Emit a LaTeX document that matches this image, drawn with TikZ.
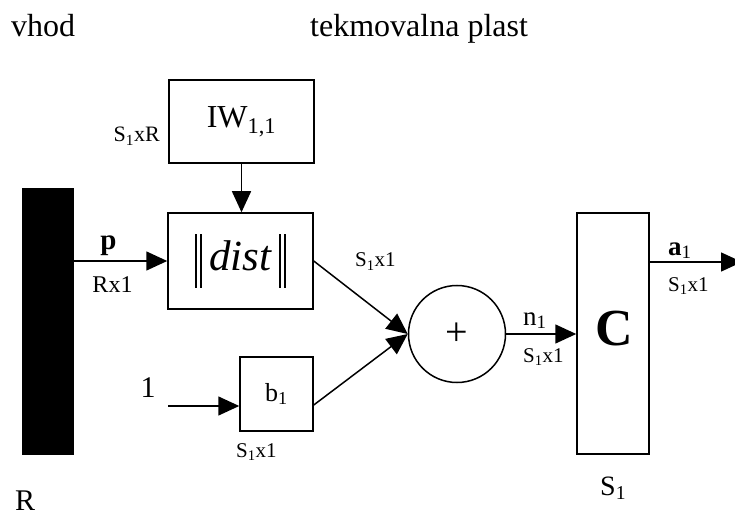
\documentclass[tikz,border=0pt]{standalone}
\usepackage{fontspec}
\setmainfont{Liberation Serif}
\usetikzlibrary{arrows.meta,calc}
\newcommand\fsz[1]{\fontsize{#1}{#1}\selectfont}
\newcommand\dbar{\rule[-17pt]{1.8pt}{54pt}\hspace{3pt}\rule[-17pt]{1.8pt}{54pt}}
\newcommand\sbs[1]{\textsubscript{#1}}
\begin{document}
\begin{tikzpicture}[x=1pt,y=-1pt,
  blk/.style={draw,line width=1.5pt,inner sep=0pt,anchor=center},
  conn/.style={line width=1.5pt,-{Triangle[length=21pt,width=19pt]}},
  lbl/.style={inner sep=0pt,anchor=base},
  big/.style={font=\fsz{32}},
  small/.style={font=\fsz{21}}]
\useasboundingbox (0,0) rectangle (735,518);
% blocks
\node[blk,fill=black,minimum width=50pt,minimum height=265pt] (bar) at (48,321.5) {};
\node[blk,minimum width=145pt,minimum height=83pt,font=\fsz{32}] (iw) at (241.5,121.5) {IW\sbs{1,1}};
\node[blk,minimum width=145pt,minimum height=96pt,font=\fsz{43}] (dist) at (240.5,261) {\dbar\,\textit{dist}\,\dbar};
\node[blk,minimum width=73pt,minimum height=74pt,font=\fsz{26}] (b1) at (276.5,394) {b\sbs{1}};
\node[blk,circle,minimum size=97pt,font=\fsz{40}] (sum) at (457,334) {+};
\node[blk,minimum width=72pt,minimum height=241pt] (cc) at (613,333.5) {};
\node[inner sep=0pt,font=\fsz{52}\bfseries] (ctext) at (614,329) {C};
% coordinates
\coordinate (onestart) at (168,406);
\coordinate (aend) at (742,262);
% connectors
\draw[conn] (bar.east |- dist.west) -- (dist.west);
\draw[conn] (iw.south) -- (iw.south |- dist.north);
\draw[conn] (onestart) -- (onestart -| b1.west);
\draw[conn] (dist.east) -- (sum.west);
\draw[conn] ($(b1.east)+(0,11)$) -- (sum.west);
\draw[conn] (sum.east) -- (sum.east -| cc.west);
\draw[conn] (cc.east |- aend) -- (aend);
% labels
\node[lbl,big,anchor=base west] (vhod) at (11,37) {vhod};
\node[lbl,big,anchor=base west] (tek) at (310,37) {tekmovalna plast};
\node[lbl,font=\fsz{22},anchor=base east] (sxr) at (160,142) {S\sbs{1}xR};
\node[lbl,font=\fsz{29}\bfseries] (p) at (108.5,250) {p};
\node[lbl,font=\fsz{24}] (rx1) at (112.5,292) {Rx1};
\node[lbl,small,anchor=base west] (s1) at (355,267) {S\sbs{1}x1};
\node[lbl,font=\fsz{30}] (one) at (148,397) {1};
\node[lbl,small,anchor=base west] (s2) at (236,457) {S\sbs{1}x1};
\node[lbl,font=\fsz{27},anchor=base west] (n1) at (523,325) {n\sbs{1}};
\node[lbl,small,anchor=base west] (s3) at (523,362) {S\sbs{1}x1};
\node[lbl,font=\fsz{27},anchor=base west] (a1) at (668,255) {\textbf{a}\sbs{1}};
\node[lbl,small,anchor=base west] (s4) at (668,291) {S\sbs{1}x1};
\node[lbl,font=\fsz{28},anchor=base west] (s5) at (600,495) {S\sbs{1}};
\node[lbl,font=\fsz{30},anchor=base west] (r) at (15,510) {R};
\end{tikzpicture}
\end{document}
